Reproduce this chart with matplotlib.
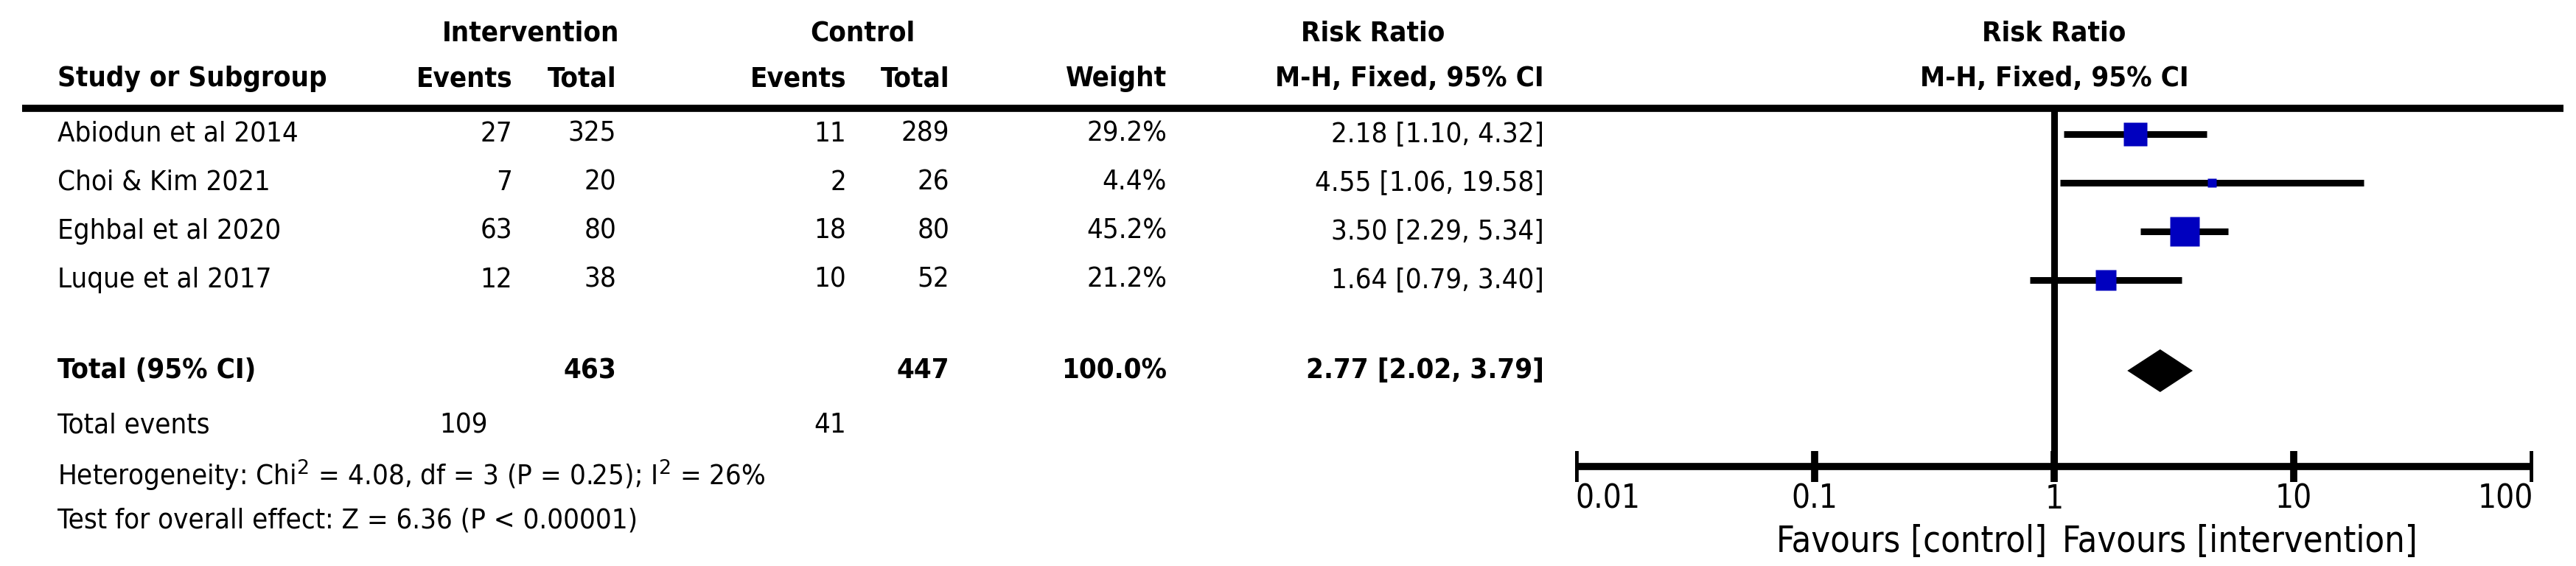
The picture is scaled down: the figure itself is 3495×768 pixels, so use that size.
import matplotlib
matplotlib.use("Agg")
import matplotlib.pyplot as plt
from matplotlib import font_manager as fm
import numpy as np

# ---------------- data ----------------
studies = ["Abiodun et al 2014", "Choi & Kim 2021", "Eghbal et al 2020", "Luque et al 2017"]
int_events = [27, 7, 63, 12]
int_total = [325, 20, 80, 38]
ctl_events = [11, 2, 18, 10]
ctl_total = [289, 26, 80, 52]
weights = [29.2, 4.4, 45.2, 21.2]
rr = [2.18, 4.55, 3.50, 1.64]
ci_low = [1.10, 1.06, 2.29, 0.79]
ci_high = [4.32, 19.58, 5.34, 3.40]

total_int = 463
total_ctl = 447
total_weight = 100.0
total_rr = 2.77
total_low = 2.02
total_high = 3.79
total_int_events = 109
total_ctl_events = 41
het_text = "Heterogeneity: Chi$^2$ = 4.08, df = 3 (P = 0.25); I$^2$ = 26%"
overall_text = "Test for overall effect: Z = 6.36 (P < 0.00001)"
axis_ticks = [0.01, 0.1, 1, 10, 100]
axis_ticklabels = ["0.01", "0.1", "1", "10", "100"]

# ---------------- font choice ----------------
has_cond = any(f.name == "DejaVu Sans" and "condensed" in str(f.stretch).lower() or
               ("DejaVuSansCondensed" in f.fname) for f in fm.fontManager.ttflist)
if has_cond:
    FAM, STRETCH, FS = "DejaVu Sans", "condensed", 27.5
else:
    FAM, STRETCH, FS = "Liberation Sans", "normal", 28
FS_TICK = FS * 1.15
FS_FAV = FS * 1.27

# ---------------- layout (pixels) ----------------
W, H = 3495, 768
DPI = 100
fig = plt.figure(figsize=(W / DPI, H / DPI), dpi=DPI, facecolor="white")
ax = fig.add_axes([0, 0, 1, 1])
ax.set_xlim(0, W)
ax.set_ylim(H, 0)
ax.axis("off")

font = dict(family=FAM, fontstretch=STRETCH, fontsize=FS, color="black")
font_tick = dict(family=FAM, fontstretch=STRETCH, fontsize=FS_TICK, color="black")
font_fav = dict(family=FAM, fontstretch=STRETCH, fontsize=FS_FAV, color="black")

y_h1 = 45
y_h2 = 107
y_line = 147
row_y = [182, 248, 314, 380]
y_total = 503
y_tev = 577
y_het = 645
y_test = 707
y_axis = 633
y_ticklab = 677
y_fav = 735

x_name = 78
x_ie, x_it, x_ce, x_ct, x_w, x_ci = 695, 836, 1148, 1288, 1583, 2095

# headers
ax.text((x_ie + x_it) / 2 - 45, y_h1, "Intervention", ha="center", va="center", weight="bold", **font)
ax.text((x_ce + x_ct) / 2 - 48, y_h1, "Control", ha="center", va="center", weight="bold", **font)
ax.text(1863, y_h1, "Risk Ratio", ha="center", va="center", weight="bold", **font)
ax.text(x_name, y_h2, "Study or Subgroup", ha="left", va="center", weight="bold", **font)
for x, s in [(x_ie, "Events"), (x_it, "Total"), (x_ce, "Events"), (x_ct, "Total"),
             (x_w, "Weight"), (x_ci, "M-H, Fixed, 95% CI")]:
    ax.text(x, y_h2, s, ha="right", va="center", weight="bold", **font)

# forest axes
X0, X1 = 2137, 3437
axf = fig.add_axes([X0 / W, 0, (X1 - X0) / W, 1])
axf.set_xscale("log")
axf.set_xlim(0.01, 100)
axf.set_ylim(H, 0)
axf.axis("off")
axf.patch.set_alpha(0)

axf.text(1, y_h1, "Risk Ratio", ha="center", va="center", weight="bold", **font)
axf.text(1, y_h2, "M-H, Fixed, 95% CI", ha="center", va="center", weight="bold", **font)

# header rule
ax.plot([30, 3478], [y_line, y_line], color="black", lw=7, solid_capstyle="butt")

# study rows
for i, y in enumerate(row_y):
    ax.text(x_name, y, studies[i], ha="left", va="center", **font)
    ax.text(x_ie, y, f"{int_events[i]}", ha="right", va="center", **font)
    ax.text(x_it, y, f"{int_total[i]}", ha="right", va="center", **font)
    ax.text(x_ce, y, f"{ctl_events[i]}", ha="right", va="center", **font)
    ax.text(x_ct, y, f"{ctl_total[i]}", ha="right", va="center", **font)
    ax.text(x_w, y, f"{weights[i]:.1f}%", ha="right", va="center", **font)
    ax.text(x_ci, y, f"{rr[i]:.2f} [{ci_low[i]:.2f}, {ci_high[i]:.2f}]", ha="right", va="center", **font)
    axf.plot([ci_low[i], ci_high[i]], [y, y], color="black", lw=6.5, solid_capstyle="butt", zorder=3)
    ms = 28.8 * np.sqrt(weights[i] / max(weights))
    axf.plot([rr[i]], [y], marker="s", ms=ms, color="#0000BF", mec="none", zorder=4)

# totals
ax.text(x_name, y_total, "Total (95% CI)", ha="left", va="center", weight="bold", **font)
ax.text(x_it, y_total, f"{total_int}", ha="right", va="center", weight="bold", **font)
ax.text(x_ct, y_total, f"{total_ctl}", ha="right", va="center", weight="bold", **font)
ax.text(x_w, y_total, f"{total_weight:.1f}%", ha="right", va="center", weight="bold", **font)
ax.text(x_ci, y_total, f"{total_rr:.2f} [{total_low:.2f}, {total_high:.2f}]", ha="right", va="center", weight="bold", **font)
ax.text(x_name, y_tev, "Total events", ha="left", va="center", **font)
ax.text(x_ie - 33, y_tev, f"{total_int_events}", ha="right", va="center", **font)
ax.text(x_ce, y_tev, f"{total_ctl_events}", ha="right", va="center", **font)
ax.text(x_name, y_het, het_text, ha="left", va="center", **font)
ax.text(x_name, y_test, overall_text, ha="left", va="center", **font)

dh = 29
axf.fill([total_low, total_rr, total_high, total_rr], [y_total, y_total - dh, y_total, y_total + dh],
         color="black", lw=0, zorder=4)

# vertical line of no effect
axf.plot([1, 1], [y_line, y_axis], color="black", lw=6.5, solid_capstyle="butt", zorder=2)

# x axis
axf.plot([0.01, 100], [y_axis, y_axis], color="black", lw=7, solid_capstyle="butt", zorder=2)
for t, lab in zip(axis_ticks, axis_ticklabels):
    axf.plot([t, t], [y_axis - 21, y_axis + 21], color="black", lw=7, solid_capstyle="butt")
    ha = "left" if t == axis_ticks[0] else ("right" if t == axis_ticks[-1] else "center")
    axf.text(t, y_ticklab, lab, ha=ha, va="center", **font_tick)
axf.text(0.93, y_fav, "Favours [control]", ha="right", va="center", **font_fav)
axf.text(1.08, y_fav, "Favours [intervention]", ha="left", va="center", **font_fav)

fig.savefig("out.png", dpi=DPI, facecolor="white")
